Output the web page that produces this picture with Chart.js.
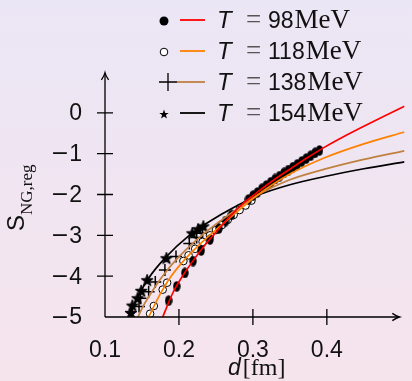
<!DOCTYPE html>
<html>
<head>
<meta charset="utf-8">
<script src="https://cdn.jsdelivr.net/npm/chart.js@4"></script>
<style>
  html, body { margin: 0; padding: 0; }
  body {
    width: 412px;
    height: 381px;
    overflow: hidden;
    background: linear-gradient(180deg, #ebe6f5 0%, #f0e5f1 50%, #f6e4ec 100%);
  }
  canvas { display: block; }
</style>
</head>
<body>
<canvas id="entropyChart" width="412" height="381"></canvas>
<script>
// temperatures and their curve colours
const temps = [98, 118, 138, 154];
const lineColors = ['#ff0000', '#ff8000', '#c08040', '#000000'];

// axis ticks
const xTicks = [0.1, 0.2, 0.3, 0.4];
const yTicks = [0, -1, -2, -3, -4, -5];

// fitted curves, d [fm] vs S
const fitD98 = [0.178, 0.192, 0.203, 0.218, 0.236, 0.254, 0.271, 0.288, 0.305, 0.318, 0.335, 0.350, 0.372, 0.397, 0.420, 0.450, 0.480, 0.505];
const fitS98 = [-5.0, -4.4, -4.05, -3.65, -3.22, -2.84, -2.5, -2.2, -1.96, -1.78, -1.56, -1.38, -1.12, -0.84, -0.61, -0.33, -0.06, 0.16];
const fitD118 = [0.159, 0.174, 0.1876, 0.205, 0.227, 0.258, 0.280, 0.305, 0.350, 0.397, 0.450, 0.505];
const fitS118 = [-5.0, -4.46, -4.05, -3.65, -3.24, -2.74, -2.4, -2.03, -1.5, -1.1, -0.76, -0.47];
const fitD138 = [0.1445, 0.152, 0.161, 0.177, 0.196, 0.227, 0.258, 0.280, 0.305, 0.350, 0.397, 0.450, 0.505];
const fitS138 = [-5.0, -4.72, -4.45, -4.02, -3.6, -3.06, -2.62, -2.34, -2.03, -1.64, -1.38, -1.14, -0.93];
const fitD154 = [0.1326, 0.1458, 0.159, 0.181, 0.214, 0.258, 0.280, 0.305, 0.350, 0.397, 0.450, 0.505];
const fitS154 = [-5.0, -4.46, -4.05, -3.56, -3.0, -2.48, -2.26, -2.03, -1.76, -1.56, -1.37, -1.2];

// lattice points
const dataD98 = [0.186, 0.197, 0.208, 0.219, 0.230, 0.242, 0.254, 0.263, 0.271, 0.294, 0.300, 0.306, 0.312, 0.318, 0.324, 0.330, 0.336, 0.342, 0.348, 0.354, 0.360, 0.366, 0.372, 0.378, 0.384, 0.390];
const dataS98 = [-4.6, -4.25, -3.92, -3.63, -3.37, -3.1, -2.83, -2.65, -2.5, -2.12, -2.03, -1.95, -1.86, -1.78, -1.7, -1.62, -1.55, -1.47, -1.4, -1.33, -1.26, -1.19, -1.12, -1.05, -0.98, -0.92];
const dataD118 = [0.161, 0.166, 0.178, 0.184, 0.206, 0.213, 0.222, 0.232, 0.242, 0.250, 0.258, 0.266, 0.274, 0.282, 0.290, 0.298];
const dataS118 = [-4.92, -4.73, -4.33, -4.16, -3.63, -3.49, -3.33, -3.16, -3.0, -2.87, -2.75, -2.62, -2.5, -2.38, -2.27, -2.15];
const dataD138 = [0.146, 0.148, 0.159, 0.168, 0.181, 0.196, 0.214, 0.224, 0.232];
const dataS138 = [-4.74, -4.54, -4.38, -4.14, -3.85, -3.52, -3.2, -3.05, -2.95];
const dataD154 = [0.135, 0.137, 0.144, 0.149, 0.157, 0.183, 0.218, 0.226, 0.233];
const dataS154 = [-4.9, -4.72, -4.54, -4.36, -4.1, -3.56, -2.95, -2.85, -2.78];

const fitD = [fitD98, fitD118, fitD138, fitD154];
const fitS = [fitS98, fitS118, fitS138, fitS154];
const dataD = [dataD98, dataD118, dataD138, dataD154];
const dataS = [dataS98, dataS118, dataS138, dataS154];

const SANS = '"Liberation Sans", Arial, sans-serif';
const SERIF = '"Liberation Serif", "Times New Roman", serif';

// marker sprites
function makeDot() {
  const c = document.createElement('canvas');
  c.width = 8; c.height = 11;
  const g = c.getContext('2d');
  g.fillStyle = '#000';
  g.beginPath();
  g.ellipse(4, 5.5, 3.7, 5.2, 0, 0, Math.PI * 2);
  g.fill();
  return c;
}

function starPath(g, cx, cy, ro, ri) {
  g.beginPath();
  for (let k = 0; k < 10; k++) {
    const r = k % 2 ? ri : ro;
    const a = -Math.PI / 2 + k * Math.PI / 5;
    const px = cx + r * Math.cos(a), py = cy + r * Math.sin(a);
    k ? g.lineTo(px, py) : g.moveTo(px, py);
  }
  g.closePath();
}

function makeStar() {
  const c = document.createElement('canvas');
  c.width = 14; c.height = 14;
  const g = c.getContext('2d');
  g.fillStyle = '#000';
  g.strokeStyle = '#000';
  g.lineWidth = 1;
  starPath(g, 7, 7.4, 6.3, 2.6);
  g.fill();
  g.stroke();
  return c;
}

const dotSprite = makeDot();
const starSprite = makeStar();

const markerStyles = [
  { pointStyle: dotSprite, pointRadius: 4 },
  { pointStyle: 'circle', pointRadius: 3.8, backgroundColor: '#ffffff', borderColor: '#000', borderWidth: 1 },
  { pointStyle: 'cross', pointRadius: 6, borderColor: '#000', borderWidth: 1.5 },
  { pointStyle: starSprite, pointRadius: 6 }
];

const fitSets = temps.map((t, i) => ({
  label: `T = ${t} MeV fit`,
  data: fitD[i].map((d, j) => ({ x: d, y: fitS[i][j] })),
  showLine: true,
  borderColor: lineColors[i],
  borderWidth: 1.7,
  pointRadius: 0,
  cubicInterpolationMode: 'monotone'
}));

const pointSets = temps.map((t, i) => Object.assign({
  label: `T = ${t} MeV`,
  data: dataD[i].map((d, j) => ({ x: d, y: dataS[i][j] })),
  showLine: false,
  backgroundColor: '#000'
}, markerStyles[i]));

function arrowhead(ctx, px, py, angle) {
  ctx.save();
  ctx.translate(px, py);
  ctx.rotate(angle);
  ctx.beginPath();
  ctx.moveTo(-7, -3.6);
  ctx.quadraticCurveTo(-2.5, -0.6, 0, 0);
  ctx.quadraticCurveTo(-2.5, 0.6, -7, 3.6);
  ctx.stroke();
  ctx.restore();
}

// y labels: digits in sans, a wide minus sign in front
function drawYLabel(ctx, v, right, py) {
  ctx.textAlign = 'right';
  ctx.textBaseline = 'middle';
  ctx.font = `23px ${SANS}`;
  const digits = String(Math.abs(v));
  ctx.fillText(digits, right, py);
  if (v < 0) {
    const wd = ctx.measureText(digits).width;
    ctx.font = '22px "DejaVu Sans", sans-serif';
    ctx.fillText('\u2212', right - wd, py);
  }
}

// axes with arrows, crossing ticks, titles and the legend
const decorations = {
  id: 'decorations',
  afterDraw(chart) {
    const { ctx, scales: { x, y } } = chart;
    const x0 = x.getPixelForValue(xTicks[0]);
    const y0 = y.getPixelForValue(yTicks[yTicks.length - 1]);
    const xEnd = x.getPixelForValue(0.498);
    const yEnd = y.getPixelForValue(0.98);

    ctx.save();
    ctx.strokeStyle = '#000';
    ctx.lineWidth = 1.3;
    ctx.beginPath();
    ctx.moveTo(x0, y0); ctx.lineTo(xEnd, y0);
    ctx.moveTo(x0, y0); ctx.lineTo(x0, yEnd);
    ctx.stroke();
    arrowhead(ctx, xEnd, y0, 0);
    arrowhead(ctx, x0, yEnd, -Math.PI / 2);

    ctx.beginPath();
    xTicks.slice(1).forEach(v => {
      const px = x.getPixelForValue(v);
      ctx.moveTo(px, y0 - 8); ctx.lineTo(px, y0 + 8);
    });
    yTicks.slice(0, -1).forEach(v => {
      const py = y.getPixelForValue(v);
      ctx.moveTo(x0 - 8, py); ctx.lineTo(x0 + 8, py);
    });
    ctx.stroke();

    // tick labels
    ctx.fillStyle = '#111';
    ctx.font = `23px ${SANS}`;
    ctx.textAlign = 'center';
    ctx.textBaseline = 'alphabetic';
    xTicks.forEach(v => ctx.fillText(String(v), x.getPixelForValue(v), 357));
    yTicks.forEach(v => drawYLabel(ctx, v, 82, y.getPixelForValue(v) + 1));

    // x title: d[fm]
    ctx.textAlign = 'left';
    ctx.textBaseline = 'alphabetic';
    ctx.font = `italic 23px ${SANS}`;
    ctx.fillText('d', 228, 375);
    const wd = ctx.measureText('d').width;
    ctx.font = `24px ${SERIF}`;
    ctx.fillText('[fm]', 228 + wd + 2, 375);

    // y title: S_NG,reg
    ctx.save();
    ctx.translate(24, 231);
    ctx.rotate(-Math.PI / 2);
    ctx.font = `24px ${SANS}`;
    ctx.fillText('S', 0, 0);
    const ws = ctx.measureText('S').width;
    ctx.font = `17px ${SERIF}`;
    ctx.fillText('NG,reg', ws, 8);
    ctx.restore();

    // legend
    const rows = [28, 59, 90, 121];
    temps.forEach((t, i) => {
      const yb = rows[i];
      const ym = yb - 8;
      ctx.fillStyle = '#000';
      ctx.strokeStyle = '#000';
      ctx.lineWidth = 1;
      let lineStart = 180;
      if (i === 0) {
        ctx.beginPath(); ctx.arc(164, ym + 1, 4.5, 0, Math.PI * 2); ctx.fill();
      } else if (i === 1) {
        ctx.beginPath(); ctx.arc(164, ym + 1, 3.8, 0, Math.PI * 2);
        ctx.fillStyle = '#fff'; ctx.fill(); ctx.stroke();
      } else if (i === 2) {
        ctx.lineWidth = 1.3;
        ctx.beginPath();
        ctx.moveTo(159, ym); ctx.lineTo(177, ym);
        ctx.moveTo(168, ym - 9); ctx.lineTo(168, ym + 9);
        ctx.stroke();
        lineStart = 177;
      } else {
        ctx.fillStyle = '#000';
        starPath(ctx, 164, ym + 1.5, 5, 2);
        ctx.fill();
      }
      ctx.strokeStyle = lineColors[i];
      ctx.lineWidth = 1.8;
      ctx.beginPath(); ctx.moveTo(lineStart, ym); ctx.lineTo(205, ym); ctx.stroke();

      ctx.fillStyle = '#111';
      ctx.textAlign = 'left';
      ctx.textBaseline = 'alphabetic';
      ctx.font = `italic 24px ${SANS}`;
      ctx.fillText('T', 217, yb);
      ctx.fillStyle = '#555';
      ctx.font = `27px ${SERIF}`;
      ctx.fillText('=', 246, yb);
      ctx.fillStyle = '#111';
      ctx.font = `23px ${SANS}`;
      ctx.fillText(String(t), 268, yb);
      const wn = ctx.measureText(String(t)).width;
      ctx.font = `27px ${SERIF}`;
      ctx.fillText('MeV', 269 + wn, yb);
    });
    ctx.restore();
  }
};

new Chart(document.getElementById('entropyChart'), {
  type: 'scatter',
  data: { datasets: [...fitSets, ...pointSets] },
  options: {
    responsive: false,
    animation: false,
    devicePixelRatio: 1,
    events: [],
    layout: { padding: { left: 105, right: 0, top: 72, bottom: 64 } },
    scales: {
      x: { type: 'linear', min: 0.1, max: 0.505, display: false },
      y: { type: 'linear', min: -5, max: 1, display: false }
    },
    plugins: {
      legend: { display: false },
      tooltip: { enabled: false }
    }
  },
  plugins: [decorations]
});
</script>
</body>
</html>
